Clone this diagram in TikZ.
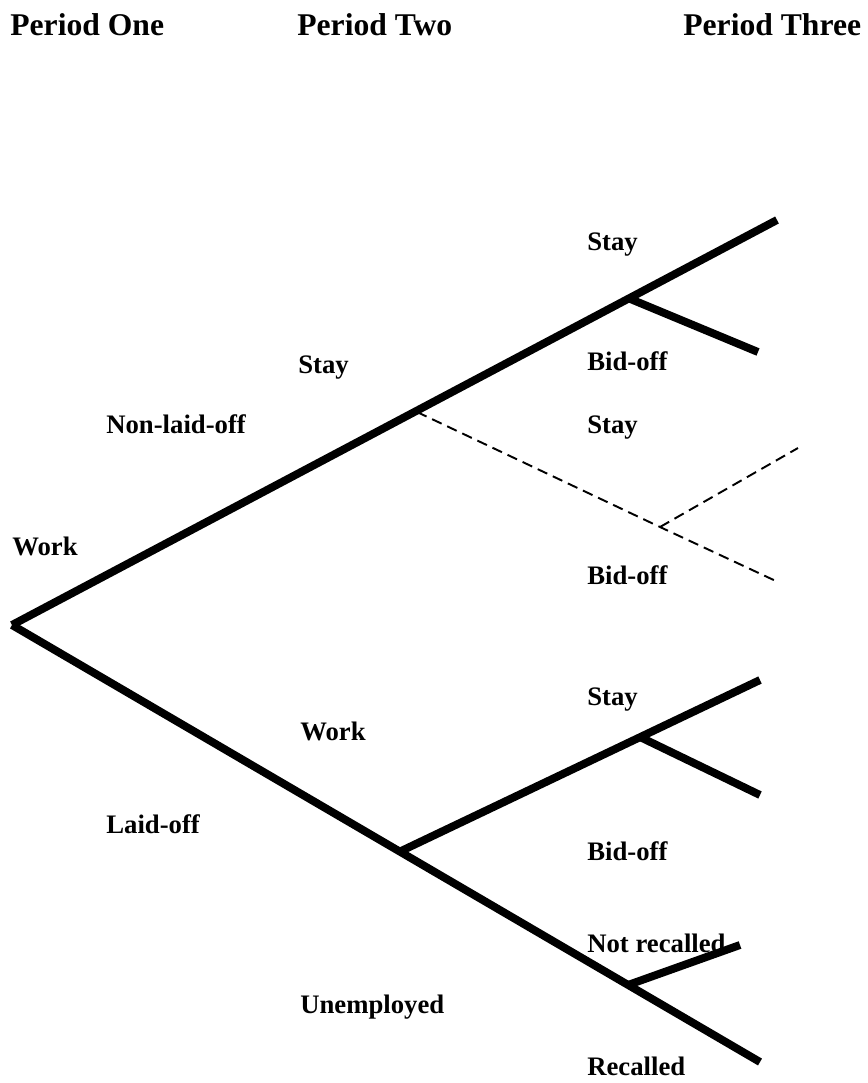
\documentclass[tikz,border=0pt]{standalone}
\usepackage{fontspec}
\setmainfont{Liberation Serif}
\usetikzlibrary{positioning}

\begin{document}
\begin{tikzpicture}[
  x=0.02cm, y=-0.02cm,
  head/.style={anchor=base west, inner sep=0pt, font=\fontsize{18}{21}\selectfont\bfseries},
  lbl/.style={anchor=base west, inner sep=0pt, font=\fontsize{15.2}{18}\selectfont\bfseries},
  limb/.style={line width=4.5pt, line cap=butt, line join=miter},
  ghost/.style={line width=1.1pt, dash pattern=on 6pt off 3.5pt},
]
\useasboundingbox (0,0) rectangle (867,1083);

% column headings
\node[head] (p1) at (10,35) {Period One};
\node[head] (p2) at (297,35) {Period Two};
\node[head] (p3) at (683,35) {Period Three};

% tree points
\coordinate (root) at (12,625);
\coordinate (top) at (777,220);
\coordinate (fork) at (417,412);
\coordinate (stayfork) at (628,298);
\coordinate (stayend) at (758,352);
\coordinate (dfork) at (660,527);
\coordinate (dstay) at (798,448);
\coordinate (dbid) at (778,582);
\coordinate (lay) at (399,852);
\coordinate (workend) at (760,680);
\coordinate (workfork) at (640,737);
\coordinate (workbid) at (760,795);
\coordinate (unfork) at (628,985);
\coordinate (recall) at (760,1062);
\coordinate (norecall) at (740,945);

% solid branches
\draw[limb] (root) -- (top);
\draw[limb] (stayfork) -- (stayend);
\draw[limb] (root) -- (recall);
\draw[limb] (lay) -- (workend);
\draw[limb] (workfork) -- (workbid);
\draw[limb] (unfork) -- (norecall);

% dashed branch
\draw[ghost] (fork) -- (dfork) -- (dbid);
\draw[ghost] (dfork) -- (dstay);

% labels
\node[lbl] (work1) at (12,555) {Work};
\node[lbl] (nonlaid) at (106,433) {Non-laid-off};
\node[lbl] (laid) at (106,833) {Laid-off};
\node[lbl] (stay2) at (298,373) {Stay};
\node[lbl] (work2) at (300,740) {Work};
\node[lbl] (unemp) at (300,1013) {Unemployed};
\node[lbl] (stay3a) at (587,250) {Stay};
\node[lbl] (bid3a) at (587,370) {Bid-off};
\node[lbl] (stay3b) at (587,433) {Stay};
\node[lbl] (bid3b) at (587,584) {Bid-off};
\node[lbl] (stay3c) at (587,705) {Stay};
\node[lbl] (bid3c) at (587,860) {Bid-off};
\node[lbl] (norec) at (587,952) {Not recalled};
\node[lbl] (rec) at (587,1075) {Recalled};
\end{tikzpicture}
\end{document}
